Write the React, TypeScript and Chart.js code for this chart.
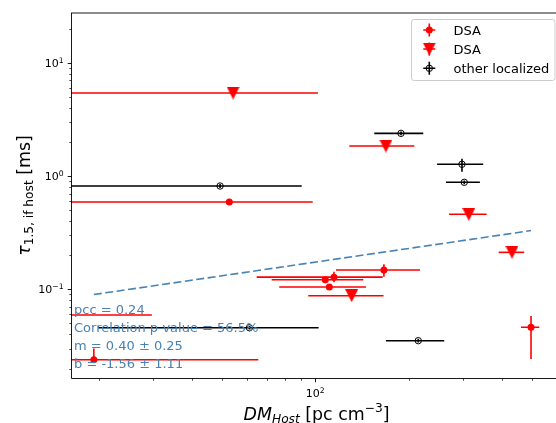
import React, { useEffect, useRef } from "react";
import { Chart, registerables } from "chart.js";

Chart.register(...registerables);

// DSA bursts with a measured host scattering time (DM in pc cm^-3, tau in ms)
const DSA_DM = [52.8, 166.5, 114.9, 107.7, 111.0, 19.3, 496.5, 14.0];
const DSA_DM_LO = [8, 116.6, 64.7, 72.3, 76.5, 8, 460.8, 6];
const DSA_DM_HI = [98.1, 217.7, 165.0, 142.8, 145.7, 65.5, 528.0, 29.7];
const DSA_TAU = [0.59, 0.148, 0.128, 0.1215, 0.1048, 0.0239, 0.0462, 0.0593];
const DSA_TAU_LO = [0.59, 0.129, 0.1153, 0.1215, 0.1048, 0.0239, 0.0243, 0.0593];
const DSA_TAU_HI = [0.59, 0.166, 0.1429, 0.1215, 0.1048, 0.0301, 0.0581, 0.0593];

// DSA bursts with only an upper limit on tau
const LIM_DM = [54.3, 169.0, 312.7, 431.0, 131.0];
const LIM_DM_LO = [8, 128.7, 270.0, 390.5, 94.9];
const LIM_DM_HI = [102.0, 208.6, 357.0, 472.0, 166.0];
const LIM_TAU = [5.4, 1.84, 0.459, 0.212, 0.0878];

// Other localized FRBs
const LOC_DM = [49.3, 189.0, 297.3, 302.4, 61.3, 214.9];
const LOC_DM_LO = [8, 155.0, 247.0, 264.0, 19.9, 169.0];
const LOC_DM_HI = [90.4, 223.0, 348.0, 339.6, 102.5, 260.6];
const LOC_TAU = [0.816, 2.38, 1.269, 0.88, 0.0458, 0.0352];
const LOC_TAU_LO = [0.785, 2.29, 1.09, 0.847, 0.0441, 0.0339];
const LOC_TAU_HI = [0.848, 2.47, 1.42, 0.914, 0.0476, 0.0366];

// Power-law fit in log-log space: log tau = b + m log DM
const FIT_M = 0.4;
const FIT_M_ERR = 0.25;
const FIT_B = -1.56;
const FIT_B_ERR = 1.11;
const FIT_DM = [19.3, 496.5];
const PCC = 0.24;
const P_VALUE = 56.5;

const LEGEND_LABELS = ["DSA", "DSA", "other localized"];

const X_RANGE = [16.29, 625];
const Y_RANGE = [0.01649, 27.46];
const X_MAJOR = [100];
const Y_MAJOR = [0.1, 1, 10];

const RED = "#ff0000";
const BLACK = "#000000";
const BLUE = "#4682b4";
const FONT = "'DejaVu Sans', 'Noto Sans', sans-serif";

const ERROR_SETS = [
  null,
  { color: RED, xLo: DSA_DM_LO, xHi: DSA_DM_HI, yLo: DSA_TAU_LO, yHi: DSA_TAU_HI },
  { color: RED, xLo: LIM_DM_LO, xHi: LIM_DM_HI, yLo: LIM_TAU, yHi: LIM_TAU },
  { color: BLACK, xLo: LOC_DM_LO, xHi: LOC_DM_HI, yLo: LOC_TAU_LO, yHi: LOC_TAU_HI },
];

function makeTriangle(size: number, color: string) {
  const c = document.createElement("canvas");
  c.width = size;
  c.height = size;
  const g = c.getContext("2d")!;
  g.fillStyle = color;
  g.beginPath();
  g.moveTo(0, 0);
  g.lineTo(size, 0);
  g.lineTo(size / 2, size);
  g.closePath();
  g.fill();
  return c;
}

function minorTicks(lo: number, hi: number) {
  const out: number[] = [];
  for (let e = Math.floor(Math.log10(lo)); e <= Math.ceil(Math.log10(hi)); e++) {
    for (let k = 2; k <= 9; k++) {
      const v = k * Math.pow(10, e);
      if (v >= lo && v <= hi) out.push(v);
    }
  }
  return out;
}

type Part = { t: string; font: string; dy: number };

function drawParts(ctx: CanvasRenderingContext2D, parts: Part[], cx: number, baseline: number) {
  let total = 0;
  parts.forEach((p) => {
    ctx.font = p.font;
    total += ctx.measureText(p.t).width;
  });
  let x = cx - total / 2;
  ctx.textAlign = "left";
  ctx.textBaseline = "alphabetic";
  parts.forEach((p) => {
    ctx.font = p.font;
    ctx.fillText(p.t, x, baseline + p.dy);
    x += ctx.measureText(p.t).width;
  });
}

const errorBarPlugin = {
  id: "errorBars",
  beforeDatasetsDraw(chart: any) {
    const { ctx, chartArea: a } = chart;
    const xs = chart.scales.x;
    const ys = chart.scales.y;
    ctx.save();
    ctx.beginPath();
    ctx.rect(a.left, a.top, a.right - a.left, a.bottom - a.top);
    ctx.clip();
    ctx.lineWidth = 1.6;
    chart.data.datasets.forEach((ds: any, di: number) => {
      const eb = ERROR_SETS[di];
      if (!eb) return;
      ctx.strokeStyle = eb.color;
      ds.data.forEach((p: any, i: number) => {
        const px = xs.getPixelForValue(p.x);
        const py = ys.getPixelForValue(p.y);
        ctx.beginPath();
        ctx.moveTo(xs.getPixelForValue(eb.xLo[i]), py);
        ctx.lineTo(xs.getPixelForValue(eb.xHi[i]), py);
        if (eb.yLo[i] !== eb.yHi[i]) {
          ctx.moveTo(px, ys.getPixelForValue(eb.yLo[i]));
          ctx.lineTo(px, ys.getPixelForValue(eb.yHi[i]));
        }
        ctx.stroke();
      });
    });
    ctx.restore();
  },
};

function makeDecorPlugin(tri: HTMLCanvasElement) {
  return {
    id: "decor",
    afterDraw(chart: any) {
      const { ctx, chartArea: a } = chart;
      const xs = chart.scales.x;
      const ys = chart.scales.y;
      ctx.save();

      // spines
      ctx.strokeStyle = BLACK;
      ctx.lineWidth = 0.9;
      ctx.beginPath();
      ctx.moveTo(a.left + 0.5, a.top);
      ctx.lineTo(a.left + 0.5, a.bottom + 0.5);
      ctx.lineTo(a.right, a.bottom + 0.5);
      ctx.moveTo(a.left, a.top);
      ctx.lineTo(a.right, a.top);
      ctx.stroke();

      // ticks
      const tick = (x1: number, y1: number, x2: number, y2: number, w: number) => {
        ctx.lineWidth = w;
        ctx.beginPath();
        ctx.moveTo(x1, y1);
        ctx.lineTo(x2, y2);
        ctx.stroke();
      };
      Y_MAJOR.forEach((v) => {
        const py = Math.round(ys.getPixelForValue(v)) + 0.5;
        tick(a.left + 0.5, py, a.left + 0.5 - 3.8, py, 0.9);
      });
      minorTicks(Y_RANGE[0], Y_RANGE[1]).forEach((v) => {
        const py = Math.round(ys.getPixelForValue(v)) + 0.5;
        tick(a.left + 0.5, py, a.left + 0.5 - 2.2, py, 0.7);
      });
      X_MAJOR.forEach((v) => {
        const px = Math.round(xs.getPixelForValue(v)) + 0.5;
        tick(px, a.bottom + 0.5, px, a.bottom + 0.5 + 3.8, 0.9);
      });
      minorTicks(X_RANGE[0], X_RANGE[1]).forEach((v) => {
        const px = Math.round(xs.getPixelForValue(v)) + 0.5;
        tick(px, a.bottom + 0.5, px, a.bottom + 0.5 + 2.2, 0.7);
      });

      // tick labels as 10^n
      ctx.fillStyle = BLACK;
      const base = `11px ${FONT}`;
      const sup = `7.7px ${FONT}`;
      const expText = (v: number) => {
        const e = Math.round(Math.log10(v));
        return e < 0 ? "\u2212" + Math.abs(e) : String(e);
      };
      ctx.textBaseline = "alphabetic";
      Y_MAJOR.forEach((v) => {
        const py = ys.getPixelForValue(v);
        const ex = expText(v);
        ctx.font = base;
        const w1 = ctx.measureText("10").width;
        ctx.font = sup;
        const w2 = ctx.measureText(ex).width;
        const right = a.left - 7.4;
        ctx.font = base;
        ctx.textAlign = "left";
        ctx.fillText("10", right - w1 - w2, py + 4);
        ctx.font = sup;
        ctx.fillText(ex, right - w2, py);
      });
      X_MAJOR.forEach((v) => {
        const px = xs.getPixelForValue(v);
        drawParts(
          ctx,
          [
            { t: "10", font: base, dy: 0 },
            { t: expText(v), font: sup, dy: -4 },
          ],
          px,
          396.5
        );
      });

      // axis titles
      const big = `17.4px ${FONT}`;
      const bigIt = `italic 17.4px ${FONT}`;
      const small = `12.2px ${FONT}`;
      const smallIt = `italic 12.2px ${FONT}`;
      drawParts(
        ctx,
        [
          { t: "DM", font: bigIt, dy: 0 },
          { t: "Host", font: smallIt, dy: 3.2 },
          { t: " [pc cm", font: big, dy: 0 },
          { t: "\u22123", font: small, dy: -8 },
          { t: "]", font: big, dy: 0 },
        ],
        (a.left + a.right) / 2,
        420
      );
      ctx.save();
      ctx.translate(30, (a.top + a.bottom) / 2);
      ctx.rotate(-Math.PI / 2);
      drawParts(
        ctx,
        [
          { t: "\u03c4", font: bigIt, dy: 0 },
          { t: "1.5, if host", font: small, dy: 3.2 },
          { t: " [ms]", font: big, dy: 0 },
        ],
        0,
        0
      );
      ctx.restore();

      // fit statistics
      const stats = [
        `pcc = ${PCC.toFixed(2)}`,
        `Correlation p-value = ${P_VALUE.toFixed(1)}%`,
        `m = ${FIT_M.toFixed(2)} \u00b1 ${FIT_M_ERR.toFixed(2)}`,
        `b = ${FIT_B.toFixed(2)} \u00b1 ${FIT_B_ERR.toFixed(2)}`,
      ];
      ctx.fillStyle = BLUE;
      ctx.font = `13px ${FONT}`;
      ctx.textAlign = "left";
      stats.forEach((s, i) => ctx.fillText(s, a.left + 3, 314 + i * 18));

      // legend
      const lx = 411.5;
      const ly = 19.5;
      const lw = 143.5;
      const lh = 61;
      ctx.beginPath();
      ctx.roundRect(lx, ly, lw, lh, 2.6);
      ctx.fillStyle = "rgba(255,255,255,0.8)";
      ctx.fill();
      ctx.strokeStyle = "#cccccc";
      ctx.lineWidth = 1;
      ctx.stroke();
      const hx = 429.3;
      const rows = [30, 49, 68.3];
      rows.forEach((ry, i) => {
        const col = i === 2 ? BLACK : RED;
        ctx.strokeStyle = col;
        ctx.lineWidth = 1.6;
        ctx.beginPath();
        ctx.moveTo(hx - 6, ry);
        ctx.lineTo(hx + 6, ry);
        ctx.moveTo(hx, ry - 6.5);
        ctx.lineTo(hx, ry + 6.5);
        ctx.stroke();
        if (i === 0) {
          ctx.fillStyle = RED;
          ctx.beginPath();
          ctx.arc(hx, ry, 3.5, 0, Math.PI * 2);
          ctx.fill();
        } else if (i === 1) {
          ctx.drawImage(tri, hx - tri.width / 2, ry - tri.height / 2);
        } else {
          ctx.lineWidth = 1;
          ctx.beginPath();
          ctx.arc(hx, ry, 3.2, 0, Math.PI * 2);
          ctx.stroke();
        }
        ctx.fillStyle = BLACK;
        ctx.font = `13px ${FONT}`;
        ctx.textAlign = "left";
        ctx.fillText(LEGEND_LABELS[i], 453.5, ry + 4.7);
      });

      ctx.restore();
    },
  };
}

export default function App() {
  const ref = useRef<HTMLCanvasElement>(null);

  useEffect(() => {
    const canvas = ref.current;
    if (!canvas) return;
    const tri = makeTriangle(13, RED);
    const toPoints = (xs: number[], ys: number[]) => xs.map((x, i) => ({ x, y: ys[i] }));
    const fitPoints = FIT_DM.map((x) => ({ x, y: Math.pow(10, FIT_B + FIT_M * Math.log10(x)) }));

    const chart = new Chart(canvas, {
      type: "scatter",
      data: {
        datasets: [
          {
            type: "line",
            label: "fit",
            data: fitPoints,
            borderColor: BLUE,
            borderWidth: 1.6,
            borderDash: [8, 3.5],
            pointRadius: 0,
            fill: false,
            showLine: true,
            clip: 0,
          } as any,
          {
            label: LEGEND_LABELS[0],
            data: toPoints(DSA_DM, DSA_TAU),
            pointStyle: "circle",
            pointRadius: 3.5,
            backgroundColor: RED,
            borderColor: RED,
            borderWidth: 0,
            clip: 0,
          },
          {
            label: LEGEND_LABELS[1],
            data: toPoints(LIM_DM, LIM_TAU),
            pointStyle: tri,
            pointRadius: 6.5,
            backgroundColor: RED,
            borderColor: RED,
            clip: 0,
          },
          {
            label: LEGEND_LABELS[2],
            data: toPoints(LOC_DM, LOC_TAU),
            pointStyle: "circle",
            pointRadius: 3.2,
            backgroundColor: "rgba(0,0,0,0)",
            borderColor: BLACK,
            borderWidth: 1,
            clip: 0,
          },
        ],
      },
      options: {
        responsive: false,
        animation: false,
        devicePixelRatio: 1,
        events: [],
        layout: { padding: { left: 71, top: 13, right: 8, bottom: 45 } },
        scales: {
          x: { type: "logarithmic", min: X_RANGE[0], max: X_RANGE[1], display: false },
          y: { type: "logarithmic", min: Y_RANGE[0], max: Y_RANGE[1], display: false },
        },
        plugins: {
          legend: { display: false },
          tooltip: { enabled: false },
        },
      },
      plugins: [errorBarPlugin, makeDecorPlugin(tri)],
    } as any);

    return () => chart.destroy();
  }, []);

  return (
    <div
      style={{
        position: "fixed",
        left: 0,
        top: 0,
        width: 556,
        height: 423,
        overflow: "hidden",
        background: "#ffffff",
      }}
    >
      <canvas ref={ref} width={570} height={423} style={{ display: "block" }} />
    </div>
  );
}
